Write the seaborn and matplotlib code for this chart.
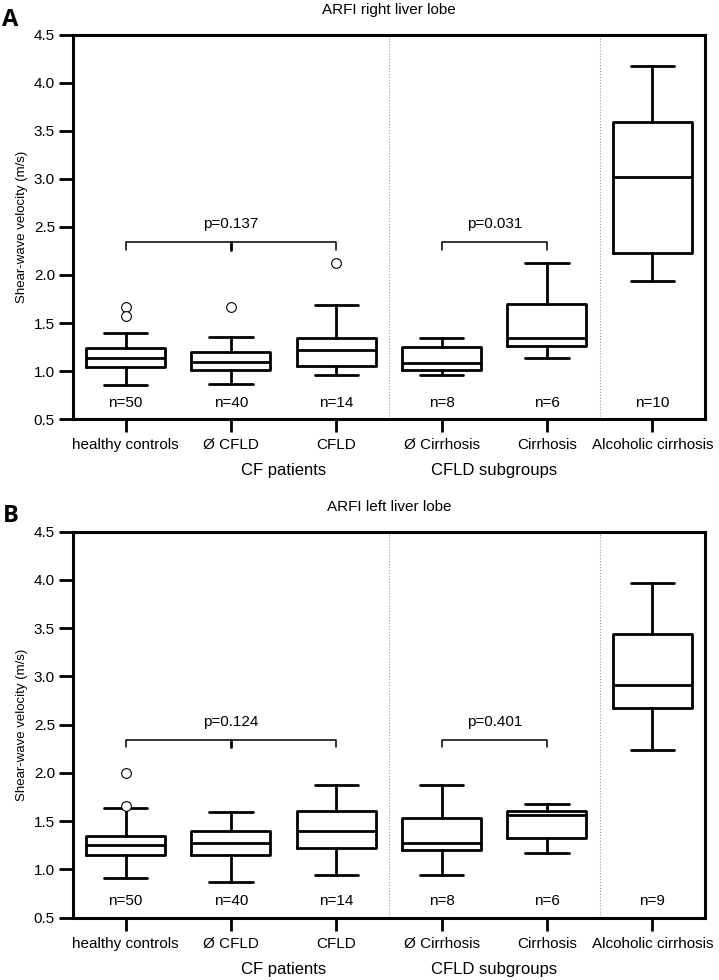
import seaborn as sns
import matplotlib
matplotlib.use('Agg')
import matplotlib.pyplot as plt

# Groups shown on the x axis
groups = ['healthy controls', 'Ø CFLD', 'CFLD', 'Ø Cirrhosis', 'Cirrhosis', 'Alcoholic cirrhosis']

# Panel A: ARFI right liver lobe (box-plot summary values, m/s)
right_whislo = [0.85, 0.87, 0.96, 0.96, 1.135, 1.94]
right_q1 = [1.045, 1.01, 1.05, 1.01, 1.26, 2.23]
right_med = [1.135, 1.094, 1.215, 1.083, 1.34, 3.02]
right_q3 = [1.24, 1.20, 1.34, 1.253, 1.694, 3.59]
right_whishi = [1.40, 1.35, 1.69, 1.34, 2.12, 4.18]
right_fliers = [[1.667, 1.576], [1.663], [2.12], [], [], []]
right_n = [50, 40, 14, 8, 6, 10]
right_p = ['p=0.137', 'p=0.031']

# Panel B: ARFI left liver lobe
left_whislo = [0.914, 0.866, 0.945, 0.945, 1.166, 2.238]
left_q1 = [1.152, 1.152, 1.22, 1.197, 1.328, 2.676]
left_med = [1.255, 1.276, 1.403, 1.276, 1.559, 2.911]
left_q3 = [1.348, 1.397, 1.61, 1.534, 1.61, 3.437]
left_whishi = [1.634, 1.597, 1.879, 1.879, 1.679, 3.965]
left_fliers = [[2.0, 1.655], [], [], [], [], []]
left_n = [50, 40, 14, 8, 6, 9]
left_p = ['p=0.124', 'p=0.401']

# group captions under the tick labels
group_captions = ['CF patients', 'CFLD subgroups']

sns.set_style('ticks', {'axes.edgecolor': 'black', 'xtick.color': 'black',
                        'ytick.color': 'black', 'text.color': 'black',
                        'axes.labelcolor': 'black'})
plt.rcParams['font.family'] = ['Liberation Sans', 'DejaVu Sans']

fig = plt.figure(figsize=(7.19, 9.8), dpi=100)
ax_a = fig.add_axes([0.1015, 0.5724, 0.879, 0.392])
ax_b = fig.add_axes([0.1015, 0.0636, 0.879, 0.394])


def draw_panel(ax, whislo, q1, med, q3, whishi, fliers, n, pvals, title, letter):
    stats = []
    for i in range(len(groups)):
        stats.append({'whislo': whislo[i], 'q1': q1[i], 'med': med[i], 'q3': q3[i],
                      'whishi': whishi[i], 'fliers': fliers[i], 'label': groups[i]})
    line = dict(color='black', linewidth=2.0)
    ax.bxp(stats, positions=range(len(groups)), widths=0.75, capwidths=0.41,
           boxprops=line, medianprops=line, whiskerprops=line, capprops=line,
           flierprops=dict(marker='o', markerfacecolor='white', markeredgecolor='black',
                           markersize=7, markeredgewidth=0.8, linestyle='none'))

    ax.set_xlim(-0.5, 5.5)
    ax.set_ylim(0.5, 4.5)
    ax.set_yticks([0.5, 1.0, 1.5, 2.0, 2.5, 3.0, 3.5, 4.0, 4.5])
    ax.set_yticklabels(['%.1f' % t for t in ax.get_yticks()])
    ax.set_xticks(range(len(groups)))
    ax.set_xticklabels(groups, fontsize=11)
    ax.tick_params(axis='y', labelsize=11, length=10, width=2, pad=3, color='black')
    ax.tick_params(axis='x', length=9, width=2, pad=5, color='black')
    for s in ax.spines.values():
        s.set_linewidth(2.2)
        s.set_color('black')
        s.set_visible(True)
    ax.set_ylabel('Shear-wave velocity (m/s)', fontsize=9.5, labelpad=4)

    # dotted separators between the sections
    for xs in [2.5, 4.5]:
        ax.axvline(xs, color='#9a9a9a', linestyle=':', linewidth=0.8)

    # n labels
    for i, v in enumerate(n):
        ax.text(i, 0.67, 'n=%d' % v, ha='center', va='center', fontsize=11)

    # significance brackets
    top, tip = 2.345, 2.265
    ax.plot([0, 0, 2, 2], [tip, top, top, tip], color='black', lw=1.1)
    ax.plot([1, 1], [top, tip], color='black', lw=2)
    ax.plot([3, 3, 4, 4], [tip, top, top, tip], color='black', lw=1.1)
    ax.text(1, 2.53, pvals[0], ha='center', va='center', fontsize=11)
    ax.text(3.5, 2.53, pvals[1], ha='center', va='center', fontsize=11)

    # group captions
    for xc, cap in zip([1.5, 3.5], group_captions):
        ax.annotate(cap, xy=(xc, 0), xycoords=('data', 'axes fraction'),
                    xytext=(0, -37), textcoords='offset points',
                    ha='center', va='center', fontsize=12)

    ax.annotate(title, xy=(0.5, 1), xycoords='axes fraction', xytext=(0, 18),
                textcoords='offset points', ha='center', va='center', fontsize=11)
    ax.annotate(letter, xy=(0, 1), xycoords='axes fraction', xytext=(-45, 11),
                textcoords='offset points', ha='center', va='center', fontsize=17,
                fontweight='bold', family=['Open Sans', 'DejaVu Sans'])


draw_panel(ax_a, right_whislo, right_q1, right_med, right_q3, right_whishi, right_fliers,
           right_n, right_p, 'ARFI right liver lobe', 'A')
draw_panel(ax_b, left_whislo, left_q1, left_med, left_q3, left_whishi, left_fliers,
           left_n, left_p, 'ARFI left liver lobe', 'B')

fig.savefig('out.png', dpi=100)
